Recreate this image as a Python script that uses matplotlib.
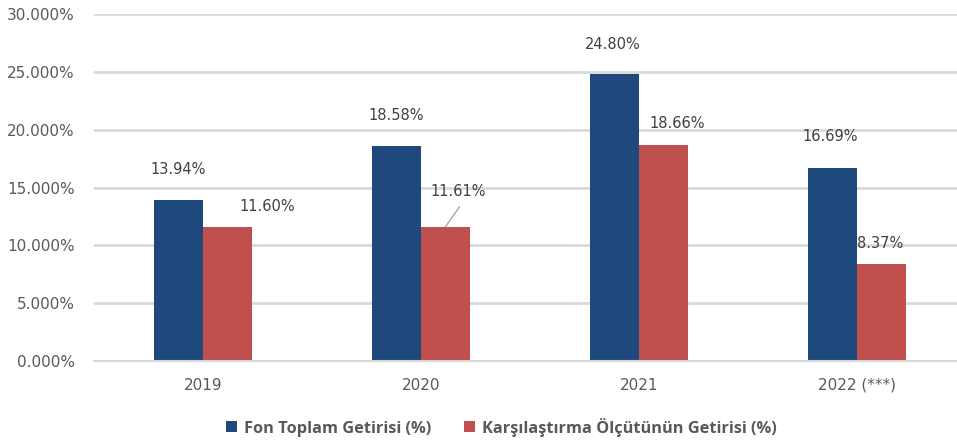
import numpy as np
import matplotlib.pyplot as plt
from matplotlib.ticker import FuncFormatter

years = ['2019', '2020', '2021', '2022 (***)']
fon = [13.94, 18.58, 24.80, 16.69]
olcut = [11.60, 11.61, 18.66, 8.37]
series_names = ['Fon Toplam Getirisi (%)', 'Karşılaştırma Ölçütünün Getirisi (%)']

# label offsets in pixels (dx, dy) relative to bar top centre
fon_off = [(0, 30), (0, 31), (-2, 30), (-2, 31)]
olcut_off = [(40, 20), (13, 35), (14, 22), (-1, 21)]

blue = '#1F497D'
red = '#C0504D'
grey = '#595959'

fig = plt.figure(figsize=(9.57, 4.45), dpi=100)
ax = fig.add_axes([94/957, 84/445, 872/957, 347/445])

x = np.arange(len(years))
w = 0.225
b1 = ax.bar(x - w/2, fon, w, color=blue, label=series_names[0])
b2 = ax.bar(x + w/2, olcut, w, color=red, label=series_names[1])

for i in range(len(years)):
    ax.annotate(f'{fon[i]:.2f}%', (x[i] - w/2, fon[i]), xytext=fon_off[i],
                textcoords='offset pixels', ha='center', va='center',
                fontsize=10.5, color='#404040')
    ax.annotate(f'{olcut[i]:.2f}%', (x[i] + w/2, olcut[i]), xytext=olcut_off[i],
                textcoords='offset pixels', ha='center', va='center',
                fontsize=10.5, color='#404040')

# leader line for 2020 benchmark label
ax.annotate('', (x[1] + w/2, olcut[1]), xytext=(14, 20), textcoords='offset pixels',
            arrowprops=dict(arrowstyle='-', color='#a6a6a6', lw=1, shrinkA=0, shrinkB=0))

ax.set_xlim(-0.5, 3.5)
ax.set_ylim(0, 30)
ax.set_yticks(np.arange(0, 31, 5))
ax.yaxis.set_major_formatter(FuncFormatter(lambda v, p: f'{v:.3f}%'))
ax.grid(axis='y', color='#d9d9d9', lw=2)
ax.set_axisbelow(True)
ax.set_xticks(x)
ax.set_xticklabels(years)
for s in ['top', 'right', 'left']:
    ax.spines[s].set_visible(False)
ax.spines['bottom'].set_color('#d9d9d9')
ax.spines['bottom'].set_linewidth(1.5)
ax.tick_params(length=0, colors=grey, labelsize=11)
ax.tick_params(axis='y', pad=14)
ax.tick_params(axis='x', pad=12)

fig.legend(handles=[b1, b2], loc='center', bbox_to_anchor=(0.524, 0.04), ncol=2,
           frameon=False, handlelength=0.65, handleheight=0.65, columnspacing=2.0,
           handletextpad=0.45,
           prop={'family': 'Open Sans', 'weight': 'bold', 'size': 11.8})
for t in fig.legends[0].get_texts():
    t.set_color(grey)

fig.savefig('out.png', dpi=100)
